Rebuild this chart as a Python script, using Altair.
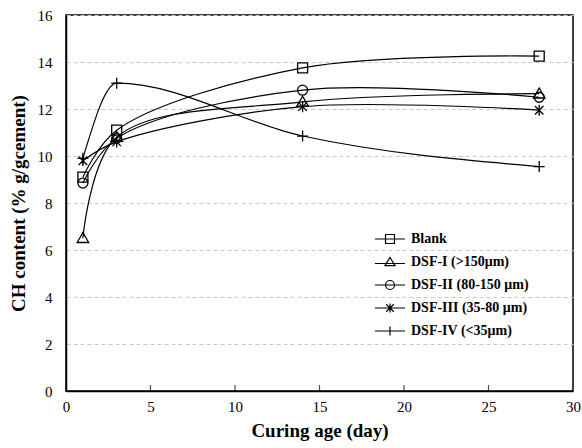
import altair as alt
import pandas as pd

days = [1, 3, 14, 28]
series_names = ["Blank", "DSF-I (>150μm)", "DSF-II (80-150 μm)", "DSF-III (35-80 μm)", "DSF-IV (<35μm)"]
blank = [9.1, 11.1, 13.75, 14.25]
dsf1 = [6.5, 10.8, 12.3, 12.65]
dsf2 = [8.85, 10.75, 12.8, 12.5]
dsf3 = [9.8, 10.6, 12.1, 11.95]
dsf4 = [9.9, 13.1, 10.85, 9.55]
x_tick_values = [5, 10, 15, 20, 25]
y_tick_values = [0, 2, 4, 6, 8, 10, 12, 14, 16]

rows = []
for name, vals in zip(series_names, [blank, dsf1, dsf2, dsf3, dsf4]):
    for d, v in zip(days, vals):
        rows.append({"series": name, "day": d, "ch": v})
df = pd.DataFrame(rows)
ticks_df = pd.DataFrame({"day": x_tick_values, "ch": [0] * len(x_tick_values)})

FONT = "Liberation Serif"

marker_paths = [
    "M-1,-1H1V1H-1Z",
    "M0,-1.15L1.15,0.85L-1.15,0.85Z",
    "M1,0A1,1 0 1 1 -1,0A1,1 0 1 1 1,0",
    "M-0.85,-0.85L0.85,0.85M-0.85,0.85L0.85,-0.85M0,-1.1L0,1.1",
    "M-1.1,0L1.1,0M0,-1.1L0,1.1",
]
s = 0.3
legend_paths = [
    f"M-1,0H1M-{s},-{s}H{s}V{s}H-{s}Z",
    f"M-1,0.1H1M0,-{s}L{s+0.04},{s-0.06}L-{s+0.04},{s-0.06}Z",
    f"M-1,0H1M{s},0A{s},{s} 0 1 1 -{s},0A{s},{s} 0 1 1 {s},0",
    f"M-1,0H1M-{s-0.05},-{s-0.05}L{s-0.05},{s-0.05}M-{s-0.05},{s-0.05}L{s-0.05},-{s-0.05}M0,-{s}L0,{s}",
    f"M-1,0H1M0,-{s}L0,{s}",
]

x_scale = alt.Scale(domain=[0, 30], nice=False)
y_scale = alt.Scale(domain=[0, 16], nice=False)

x_enc = alt.X("day:Q", scale=x_scale, title="Curing age (day)",
              axis=alt.Axis(values=[0, 5, 10, 15, 20, 25, 30], grid=False, ticks=False,
                            labelFlush=False, labelPadding=8, titlePadding=7))
y_enc = alt.Y("ch:Q", scale=y_scale, title="CH content (% g/gcement)",
              axis=alt.Axis(values=y_tick_values, grid=True, ticks=False, labelPadding=14,
                            titlePadding=9, gridDash=[4, 3], gridColor="#c8c8c8"))

lines = alt.Chart(df).transform_filter(
    alt.datum.series != series_names[4]
).mark_line(interpolate="catmull-rom", color="black", strokeWidth=1.2).encode(
    x=x_enc, y=y_enc, detail="series:N"
)
line4 = alt.Chart(df).transform_filter(
    alt.datum.series == series_names[4]
).mark_line(interpolate="monotone", color="black", strokeWidth=1.2).encode(
    x="day:Q", y="ch:Q", detail="series:N"
)

points = alt.Chart(df).mark_point(filled=False, color="black", strokeWidth=1.3, size=100, opacity=1).encode(
    x="day:Q", y="ch:Q",
    shape=alt.Shape("series:N", scale=alt.Scale(domain=series_names, range=marker_paths), legend=None),
)

legend_layer = alt.Chart(df).transform_filter("false").mark_point(
    filled=False, color="black", strokeWidth=1.2, opacity=1
).encode(
    x="day:Q", y="ch:Q",
    shape=alt.Shape("series:N", scale=alt.Scale(domain=series_names, range=legend_paths),
                    legend=alt.Legend(title=None, orient="none", legendX=308, legendY=208,
                                      symbolSize=900, symbolStrokeWidth=1.2,
                                      symbolStrokeColor="black", symbolFillColor="transparent",
                                      labelFont=FONT, labelFontSize=14, labelFontWeight="bold",
                                      labelColor="black", labelOffset=5, rowPadding=0,
                                      labelLimit=300)),
)

xticks = alt.Chart(ticks_df).mark_tick(orient="vertical", size=6, thickness=1.2, color="black",
                                      yOffset=-3).encode(x="day:Q", y="ch:Q")

chart = alt.layer(lines, line4, points, legend_layer, xticks).resolve_scale(shape="independent").properties(
    width=507, height=376,
    autosize=alt.AutoSizeParams(type="none"),
    padding={"left": 66, "top": 15, "right": 9, "bottom": 57},
).configure(background="white").configure_view(stroke="black", strokeWidth=1.5).configure_axis(
    domainColor="black", domainWidth=1.5, labelFont=FONT, labelFontSize=15, labelColor="black",
    titleFont=FONT, titleFontSize=19, titleFontWeight="bold", titleColor="black"
)

chart.save("out.html", embed_options={"renderer": "svg", "actions": False})
